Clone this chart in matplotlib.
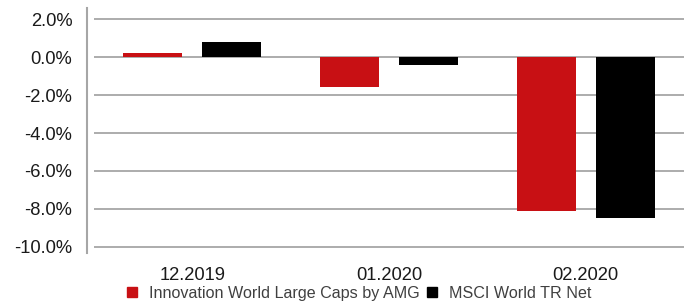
import matplotlib
matplotlib.use("Agg")
import matplotlib.pyplot as plt
import numpy as np
from matplotlib.lines import Line2D
from matplotlib.ticker import FuncFormatter

plt.rcParams["font.family"] = ["Liberation Sans", "DejaVu Sans"]

# data (monthly performance, %)
months = ["12.2019", "01.2020", "02.2020"]
fund_name = "Innovation World Large Caps by AMG"
index_name = "MSCI World TR Net"
fund_values = [0.21, -1.58, -8.10]
index_values = [0.79, -0.42, -8.47]
y_ticks = [2, 0, -2, -4, -6, -8, -10]

RED = "#c81014"
BLACK = "#000000"
GRID = "#a6a6a6"
BAR_WIDTH = 0.3

fig = plt.figure(figsize=(6.96, 3.01), dpi=100)
ax = fig.add_axes([94 / 696, 1 - 252.7 / 301, 590 / 696, (252.7 - 7.6) / 301])

x = np.arange(len(months))
ax.bar(x - 0.2, fund_values, width=BAR_WIDTH, color=RED, zorder=3)
ax.bar(x + 0.2, index_values, width=BAR_WIDTH, color=BLACK, zorder=3)

ax.set_xlim(-0.5, 2.5)
ax.set_ylim(-10.3, 2.6)
ax.set_yticks(y_ticks)
ax.yaxis.set_major_formatter(FuncFormatter(lambda v, _: f"{v:.1f}%"))
ax.set_xticks(x)
ax.set_xticklabels(months)

ax.grid(axis="y", color=GRID, linewidth=1.3, zorder=0)
for side in ["top", "right", "bottom"]:
    ax.spines[side].set_visible(False)
ax.spines["left"].set_position(("outward", 5))
ax.spines["left"].set_color(GRID)
ax.spines["left"].set_linewidth(1.5)

ax.tick_params(axis="y", length=0, pad=10.5, labelsize=13.2, labelcolor="#1a1a1a")
ax.tick_params(axis="x", length=0, pad=10.5, labelsize=13.2, labelcolor="#1a1a1a")

handles = [
    Line2D([0], [0], marker="s", linestyle="", markersize=7.9, color=RED, label=fund_name),
    Line2D([0], [0], marker="s", linestyle="", markersize=7.9, color=BLACK, label=index_name),
]
fig.legend(
    handles=handles,
    loc="center",
    bbox_to_anchor=(359 / 696, 1 - 293.5 / 301),
    ncol=2,
    frameon=False,
    fontsize=11.6,
    labelcolor="#404040",
    handlelength=0.7,
    handletextpad=0.7,
    columnspacing=0.4,
    borderpad=0,
)

fig.savefig("out.png", dpi=100)
